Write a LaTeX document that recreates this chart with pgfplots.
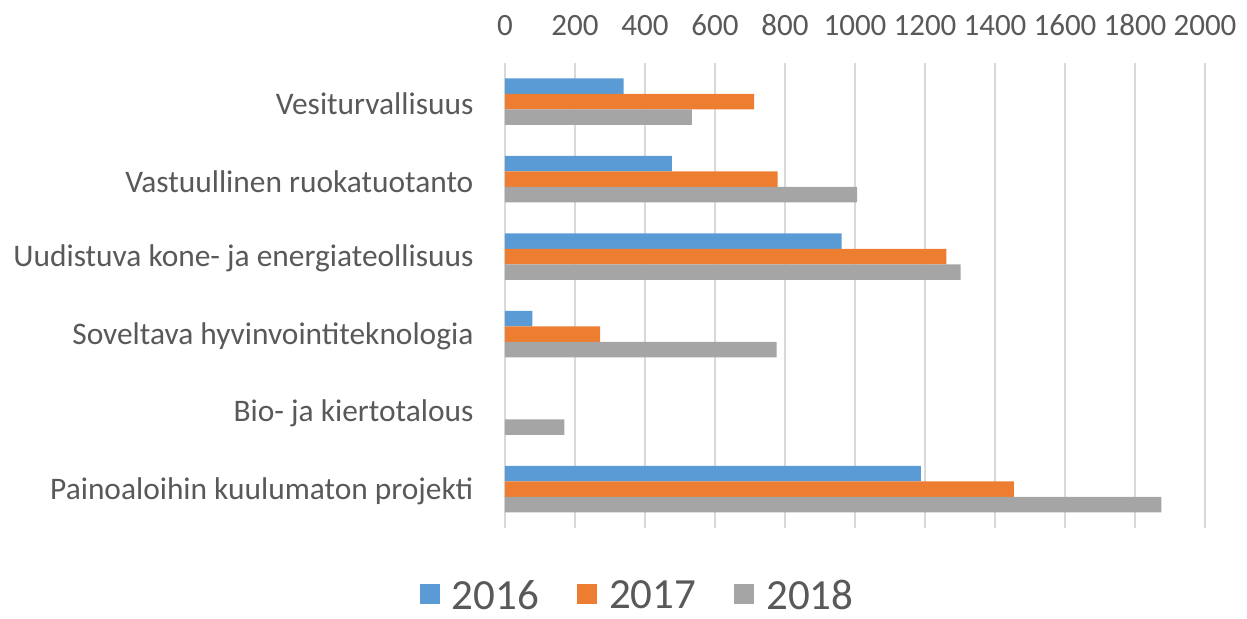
\documentclass[border=0pt]{standalone}
\usepackage{pgfplots}
\pgfplotsset{compat=1.18}
\usepackage{fontspec}
\setmainfont{Carlito}
\definecolor{cblue}{HTML}{5B9BD5}
\definecolor{corange}{HTML}{ED7D31}
\definecolor{cgray}{HTML}{A5A5A5}
\definecolor{ctext}{HTML}{595959}
\definecolor{cgrid}{HTML}{D9D9D9}
\begin{document}
\begin{tikzpicture}
\useasboundingbox (-252.5pt,-45.5pt) rectangle (371pt,264pt);
\begin{axis}[
  at={(0pt,0pt)}, anchor=south west,
  scale only axis,
  width=350pt, height=232.5pt,
  xbar, bar width=0.2,
  xmin=0, xmax=2000,
  ymin=-0.5, ymax=5.5,
  y dir=reverse,
  xtick={0,200,...,2000},
  ytick={0,1,2,3,4,5},
  yticklabels={Vesiturvallisuus, Vastuullinen ruokatuotanto, Uudistuva kone- ja energiateollisuus, Soveltava hyvinvointiteknologia, Bio- ja kiertotalous, Painoaloihin kuulumaton projekti},
  xticklabel pos=right,
  /pgf/number format/assume math mode=true,
  /pgf/number format/1000 sep={},
  xmajorgrids,
  grid style={cgrid, line width=0.8pt},
  axis line style={draw=none},
  tick style={draw=none},
  xticklabel style={font=\fontsize{15.5pt}{18pt}\selectfont, text=ctext, yshift=10pt},
  yticklabel style={font=\fontsize{15.7pt}{18pt}\selectfont, text=ctext, xshift=-8pt, yshift=-1pt},
  legend style={at={(0.191,-0.143)}, anchor=center, draw=none, legend columns=-1,
    font=\fontsize{21.5pt}{24pt}\selectfont, text=ctext,
    nodes={text depth=0pt, inner ysep=0pt},
    /tikz/every even column/.append style={column sep=17pt}},
  legend image code/.code={\fill[#1] (0pt,-5pt) rectangle (10pt,5pt); \path (14pt,0pt);},
]
\addplot[fill=cblue, draw=none, bar shift=-0.2] coordinates {(339,0) (477,1) (962,2) (78,3) (1188,5)};
\addplot[fill=corange, draw=none, bar shift=0] coordinates {(712,0) (779,1) (1261,2) (272,3) (1454,5)};
\addplot[fill=cgray, draw=none, bar shift=0.2] coordinates {(534,0) (1006,1) (1302,2) (776,3) (170,4) (1875,5)};
\legend{2016,2017,2018}
\end{axis}
\end{tikzpicture}
\end{document}
